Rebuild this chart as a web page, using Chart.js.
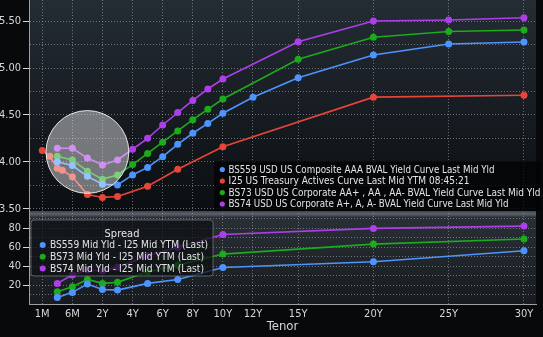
<!DOCTYPE html>
<html><head><meta charset="utf-8">
<script src="https://cdn.jsdelivr.net/npm/chart.js@4.4.1/dist/chart.umd.min.js"></script>
<style>html,body{margin:0;padding:0;background:#000;overflow:hidden}</style>
</head><body>
<canvas id="c" width="543" height="337" style="display:block;width:543px;height:337px"></canvas>
<script>
// ---- data ----
const tsyTenors = ['1M','2M','3M','4M','6M','1Y','2Y','3Y','5Y','7Y','10Y','20Y','30Y'];
const tsyYield  = [4.12, 4.06, 3.93, 3.91, 3.84, 3.65, 3.62, 3.63, 3.74, 3.92, 4.16, 4.69, 4.71];

const aaaTenors = ['3M','6M','1Y','2Y','3Y','4Y','5Y','6Y','7Y','8Y','9Y','10Y','12Y','15Y','20Y','25Y','30Y'];
const aaaYield  = [4.00, 3.96, 3.845, 3.76, 3.753, 3.86, 3.94, 4.055, 4.187, 4.305, 4.41, 4.518, 4.689, 4.898, 5.14, 5.258, 5.279];

const corpTenors = ['3M','6M','1Y','2Y','3Y','4Y','5Y','6Y','7Y','8Y','9Y','10Y','15Y','20Y','25Y','30Y'];
const aaYield    = [4.06, 4.02, 3.90, 3.815, 3.86, 3.97, 4.09, 4.21, 4.33, 4.45, 4.56, 4.67, 5.094, 5.33, 5.39, 5.407];
const aYield     = [4.145, 4.145, 4.04, 3.966, 4.02, 4.134, 4.251, 4.393, 4.525, 4.655, 4.777, 4.884, 5.282, 5.503, 5.514, 5.538];

const spreadTenors = ['3M','6M','1Y','2Y','3Y','5Y','7Y','10Y','20Y','30Y'];
const spreadAAA = [7.0, 12.3, 21.1, 15.4, 14.7, 21.8, 26.0, 38.7, 44.7, 56.3];
const spreadAA  = [12.9, 18.2, 26.0, 21.8, 22.9, 34.0, 41.0, 52.8, 63.4, 68.7];
const spreadA   = [21.8, 30.6, 35.9, 35.0, 39.0, 51.0, 60.0, 73.6, 80.0, 82.4];

const xTickTenors = ['1M','6M','2Y','4Y','6Y','8Y','10Y','12Y','15Y','20Y','25Y','30Y'];
const yieldTicks  = [3.50, 3.75, 4.00, 4.25, 4.50, 4.75, 5.00, 5.25, 5.50];
const spreadTicks = [10, 20, 30, 40, 50, 60, 70, 80, 90];

const topLegend = [
  'BS559 USD US Composite AAA BVAL Yield Curve Last Mid Yld',
  'I25 US Treasury Actives Curve Last Mid YTM 08:45:21',
  'BS73 USD US Corporate AA+ , AA , AA- BVAL Yield Curve Last Mid Yld',
  'BS74 USD US Corporate A+, A, A- BVAL Yield Curve Last Mid Yld'
];
const spreadTitle = 'Spread';
const bottomLegend = [
  'BS559 Mid Yld - I25 Mid YTM (Last)',
  'BS73 Mid Yld - I25 Mid YTM (Last)',
  'BS74 Mid Yld - I25 Mid YTM (Last)'
];
const highlight = {tenor: '1Y', yield: 4.105, radiusYears: 2.75};

// ---- styles ----
const C = {blue:'#4d94ff', red:'#e8453a', green:'#1cab1c', purple:'#ad3fea'};
const FONT = "'Liberation Sans Narrow','DejaVu Sans Condensed','Liberation Sans',Arial,sans-serif";

// tenor axis: compressed short end (1M,3M,6M,1Y,2Y equally spaced), linear from 2Y
function tenorYears(t){ const n = parseFloat(t); return t.endsWith('M') ? n/12 : n; }
const knots = [[1/12,-2],[0.25,-1],[0.5,0],[1,1],[2,2]];
function axisPos(t){
  const y = tenorYears(t);
  if (y >= 2) return y;
  for (let i=0;i<knots.length-1;i++){
    const [a0,b0] = knots[i], [a1,b1] = knots[i+1];
    if (y <= a1) return b0 + (y-a0)/(a1-a0)*(b1-b0);
  }
  return y;
}
const pts = (tenors, vals) => tenors.map((t,i)=>({x:axisPos(t), y:vals[i]}));

function ds(label, tenors, vals, color, axis){
  return {label, data: pts(tenors, vals), yAxisID: axis, borderColor: color, backgroundColor: color,
    pointBackgroundColor: color, pointRadius: 3.5, pointBorderWidth: 0, borderWidth: 1.6, tension: 0};
}

const gridColor = 'rgba(175,180,186,0.55)';
const tickTxt = '#d6d6d6';

function drawStretched(ctx, text, x, y, w){
  const nat = ctx.measureText(text).width;
  ctx.save(); ctx.translate(x, y); ctx.scale(w/nat, 1); ctx.fillText(text, 0, 0); ctx.restore();
}
function noPad(s){ s.paddingTop = 0; s.paddingBottom = 0; s.paddingLeft = 0; s.paddingRight = 0; }

const bgPlugin = {
  id: 'bg',
  beforeDraw(chart){
    const {ctx, chartArea: ca, scales} = chart;
    ctx.save();
    ctx.fillStyle = '#07090b';
    ctx.fillRect(0,0,chart.width,chart.height);
    const yT = scales.yT, yS = scales.yS;
    let g = ctx.createLinearGradient(0, yT.top, 0, yT.bottom);
    g.addColorStop(0,'#242c34'); g.addColorStop(1,'#0b0e11');
    ctx.fillStyle = g; ctx.fillRect(ca.left, yT.top, ca.right-ca.left, yT.bottom-yT.top);
    g = ctx.createLinearGradient(0, yS.top, 0, yS.bottom);
    g.addColorStop(0,'#2a3137'); g.addColorStop(1,'#171b1f');
    ctx.fillStyle = g; ctx.fillRect(ca.left, yS.top, ca.right-ca.left, yS.bottom-yS.top);
    // separator band
    g = ctx.createLinearGradient(0, yS.top, 0, yS.top+6);
    g.addColorStop(0,'#3c4248'); g.addColorStop(0.5,'#5c636a'); g.addColorStop(1,'#30363c');
    ctx.fillStyle = g; ctx.fillRect(ca.left, yS.top, ca.right-ca.left, 6);
    ctx.restore();
  }
};

const overlayPlugin = {
  id: 'overlay',
  afterDatasetsDraw(chart){
    const {ctx, scales} = chart;
    const x = scales.x, yT = scales.yT, yS = scales.yS;
    ctx.save();
    // highlight circle
    const cx = x.getPixelForValue(axisPos(highlight.tenor));
    const cy = yT.getPixelForValue(highlight.yield);
    const r = x.getPixelForValue(highlight.radiusYears) - x.getPixelForValue(0);
    ctx.beginPath(); ctx.arc(cx, cy, r, 0, Math.PI*2);
    ctx.fillStyle = 'rgba(255,255,255,0.42)'; ctx.fill();
    ctx.lineWidth = 1; ctx.strokeStyle = 'rgba(255,255,255,0.85)'; ctx.stroke();

    // top legend
    const topColors = [C.blue, C.red, C.green, C.purple];
    const topW = [266, 241, 312, 280];
    ctx.fillStyle = 'rgba(2,3,4,0.78)';
    ctx.fillRect(214, yT.bottom - 50, 327, 50);
    ctx.font = '10px ' + FONT; ctx.textBaseline = 'middle';
    topLegend.forEach((t,i)=>{
      const yy = yT.bottom - 41.5 + i*11.5;
      ctx.fillStyle = topColors[i];
      ctx.beginPath(); ctx.arc(222.3, yy, 2.6, 0, Math.PI*2); ctx.fill();
      ctx.fillStyle = '#e4e4e4';
      drawStretched(ctx, t, 228.5, yy+0.5, topW[i]);
    });

    // bottom legend
    const bx = 31, by = yS.top + 9, bw = 182, bh = 56;
    ctx.beginPath(); ctx.roundRect(bx, by, bw, bh, 3);
    ctx.fillStyle = 'rgba(12,15,18,0.72)'; ctx.fill();
    ctx.strokeStyle = 'rgba(120,126,132,0.7)'; ctx.lineWidth = 1; ctx.stroke();
    ctx.font = '11px ' + FONT; ctx.fillStyle = '#e4e4e4';
    ctx.textAlign = 'center';
    ctx.fillText(spreadTitle, 122, by + 14);
    ctx.textAlign = 'left';
    const botColors = [C.blue, C.green, C.purple];
    const botW = [158, 154, 154];
    bottomLegend.forEach((t,i)=>{
      const yy = by + 25 + i*11.8;
      ctx.fillStyle = botColors[i];
      ctx.beginPath(); ctx.arc(42.7, yy, 3, 0, Math.PI*2); ctx.fill();
      ctx.fillStyle = '#e4e4e4';
      drawStretched(ctx, t, 50, yy+0.5, botW[i]);
    });
    ctx.restore();
  }
};

new Chart(document.getElementById('c'), {
  type: 'line',
  data: { datasets: [
    ds(topLegend[0], aaaTenors, aaaYield, C.blue, 'yT'),
    ds(topLegend[1], tsyTenors, tsyYield, C.red, 'yT'),
    ds(topLegend[2], corpTenors, aaYield, C.green, 'yT'),
    ds(topLegend[3], corpTenors, aYield, C.purple, 'yT'),
    ds(bottomLegend[0], spreadTenors, spreadAAA, C.blue, 'yS'),
    ds(bottomLegend[1], spreadTenors, spreadAA, C.green, 'yS'),
    ds(bottomLegend[2], spreadTenors, spreadA, C.purple, 'yS')
  ]},
  options: {
    responsive: false, animation: false, devicePixelRatio: 1,
    layout: {autoPadding: false, padding: {left: 0, right: 7, top: 0, bottom: 0}},
    plugins: {legend: {display: false}, tooltip: {enabled: false}},
    scales: {
      x: {
        type: 'linear', position: 'bottom', min: -2.88, max: 30.8,
        afterBuildTicks: s => { s.ticks = xTickTenors.map(t => ({value: axisPos(t)})); },
        ticks: {autoSkip: false, maxRotation: 0, padding: 4, color: tickTxt,
          font: {family: FONT, size: 11},
          callback: (v) => { const t = xTickTenors.find(tt => Math.abs(axisPos(tt)-v) < 1e-6); return t || ''; }},
        grid: {color: gridColor, drawTicks: false, lineWidth: 1},
        border: {color: '#9aa0a6', width: 1, dash: [1, 2]},
        title: {display: true, text: 'Tenor', color: tickTxt, font: {family: FONT, size: 13}, padding: {top: 0, bottom: 3}},
        afterFit: s => { s.height = 33; noPad(s); }
      },
      yS: {
        type: 'linear', position: 'left', stack: 'panels', stackWeight: 93, min: 0, max: 98.4,
        afterBuildTicks: s => { s.ticks = spreadTicks.map(v => ({value: v})); },
        ticks: {autoSkip: false, color: tickTxt, padding: 2, font: {family: FONT, size: 11},
          callback: v => (v % 20 === 0 ? String(v) : '')},
        grid: {color: gridColor, tickLength: 6,
          tickColor: c => (c.tick && c.tick.value % 20 === 0 ? '#d8d8d8' : 'rgba(0,0,0,0)')},
        border: {color: '#9aa0a6', width: 1, dash: [1, 2]},
        afterFit: s => { s.width = 29; noPad(s); }
      },
      yT: {
        type: 'linear', position: 'left', stack: 'panels', stackWeight: 211, min: 3.475, max: 5.727,
        afterBuildTicks: s => { s.ticks = yieldTicks.map(v => ({value: v})); },
        ticks: {autoSkip: false, color: tickTxt, padding: 2, font: {family: FONT, size: 11},
          callback: v => (Math.round(v*100) % 50 === 0 ? v.toFixed(2) : '')},
        grid: {color: gridColor, tickLength: 6,
          tickColor: c => (c.tick && Math.round(c.tick.value*100) % 50 === 0 ? '#d8d8d8' : 'rgba(0,0,0,0)')},
        border: {color: '#9aa0a6', width: 1, dash: [1, 2]},
        afterFit: s => { s.width = 29; noPad(s); }
      }
    }
  },
  plugins: [bgPlugin, overlayPlugin]
});
</script>
</body></html>
